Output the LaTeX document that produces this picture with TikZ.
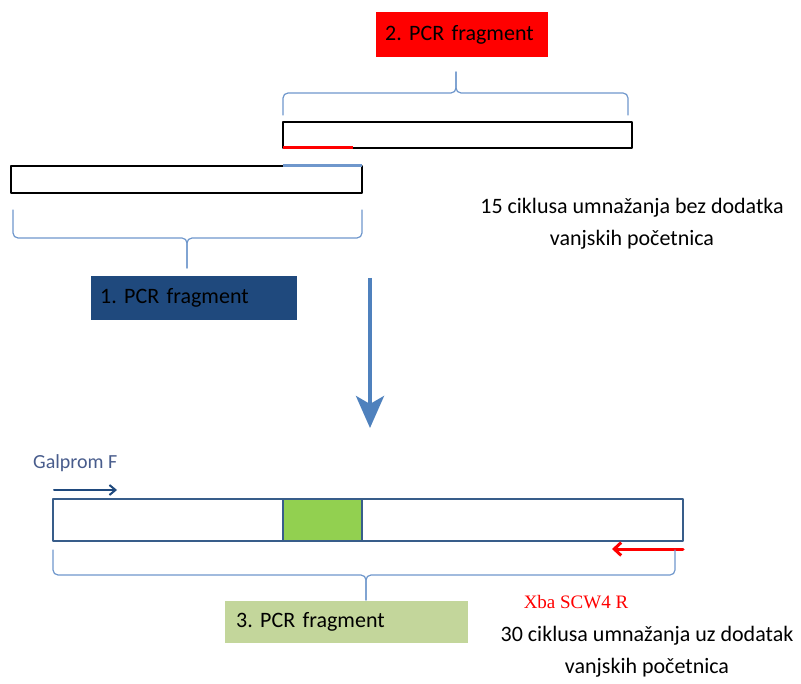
\documentclass[tikz,border=0pt]{standalone}
\usepackage{fontspec}
\setmainfont{Carlito}
\newfontfamily\timesfont{Liberation Serif}
\usetikzlibrary{arrows.meta, calc, positioning}
\definecolor{pcrred}{RGB}{255,0,0}
\definecolor{pcrblue}{RGB}{31,73,125}
\definecolor{bracecol}{RGB}{111,151,204}
\definecolor{outlineblue}{RGB}{56,93,138}
\definecolor{insertgreen}{RGB}{146,208,80}
\definecolor{paleolive}{RGB}{195,214,155}
\definecolor{arrowblue}{RGB}{79,129,189}
\definecolor{galblue}{RGB}{72,92,140}
\frenchspacing

\begin{document}
\begin{tikzpicture}[x=1pt, y=-1pt, line cap=round, line join=round,
    font=\fontsize{22}{32}\selectfont,
    strand/.style={draw=black, line width=2.5pt, fill=white, inner sep=0pt, outer sep=0pt, anchor=north west},
    pcrbox/.style={inner xsep=9pt, inner ysep=0pt, anchor=north west, align=left, text=black},
    brace line/.style={bracecol, line width=1.2pt, rounded corners=5pt}]
    \useasboundingbox (0,0) rectangle (801,684);

    % label of the second fragment
    \node[pcrbox, fill=pcrred, minimum height=45pt, text width=154pt] (lab2) at (376,12) {2. PCR fragment};
    % brace over it
    \draw[brace line] (283,115) |- (456,93) -- (456,72);
    \draw[brace line] (456,72) -- (456,93) -| (628,115);

    % the two strands
    \node[strand, minimum width=349pt, minimum height=26pt] (frag2) at (283,122) {};
    \node[strand, minimum width=351pt, minimum height=27pt] (frag1) at (11,166) {};
    \draw[pcrred, line width=3pt, line cap=butt] (frag2.south west) -- ++(70,0);
    \draw[bracecol, line width=3pt, line cap=butt] ($(frag1.north east)+(-79,0)$) -- (frag1.north east);

    % brace under the first strand
    \draw[brace line] (13,210) |- (187,238) -- (187,268);
    \draw[brace line] (187,268) -- (187,238) -| (362,210);
    \node[pcrbox, fill=pcrblue, minimum height=44pt, text width=188pt] (lab1) at (91,276) {1. PCR fragment};

    \node[align=center] (cycles1) at (632,224) {15 ciklusa umnažanja bez dodatka\\vanjskih početnica};

    % step down
    \coordinate (stepS) at (370,278);
    \coordinate (stepE) at (370,428);
    \draw[arrowblue, line width=4pt, line cap=butt, -{Stealth[length=32pt, width=28pt, inset=8pt]}] (stepS) -- (stepE);

    % fused product
    \node[font=\fontsize{20}{24}\selectfont, text=galblue, anchor=west, inner sep=0pt] (galF) at (33,463) {Galprom F};
    \coordinate (galS) at (54,490);
    \coordinate (galE) at (117,490);
    \draw[pcrblue, line width=2pt, -{Straight Barb[length=6pt, width=10pt]}] (galS) -- (galE);

    \node[draw=outlineblue, line width=2.5pt, fill=white, inner sep=0pt, outer sep=0pt, anchor=north west,
          minimum width=630pt, minimum height=42pt] (frag3) at (53,499) {};
    \node[draw=outlineblue, line width=2pt, fill=insertgreen, inner sep=0pt, outer sep=0pt, anchor=north west,
          minimum width=79pt, minimum height=42pt] (insert) at (283,499) {};

    \coordinate (xbaS) at (683,549);
    \coordinate (xbaE) at (612,549);
    \draw[pcrred, line width=3pt, -{Straight Barb[length=7pt, width=13pt]}] (xbaS) -- (xbaE);

    % brace under the product
    \draw[brace line] (53,550) |- (366,575) -- (366,600);
    \draw[brace line] (366,600) -- (366,575) -| (675,550);
    \node[pcrbox, fill=paleolive, inner xsep=11pt, minimum height=42pt, text width=221pt] (lab3) at (225,601) {3. PCR fragment};

    \node[font=\timesfont\fontsize{19}{22}\selectfont, text=pcrred] (xbaR) at (576,602) {Xba SCW4 R};
    \node[align=center] (cycles2) at (647,652) {30 ciklusa umnažanja uz dodatak\\vanjskih početnica};
\end{tikzpicture}
\end{document}
